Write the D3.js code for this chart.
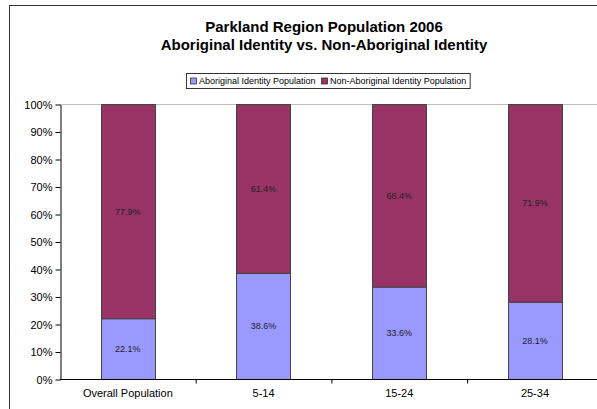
<!DOCTYPE html>
<html><head><meta charset="utf-8">
<script src="https://cdn.jsdelivr.net/npm/d3@7/dist/d3.min.js"></script>
<style>body{margin:0;background:#fff}svg{display:block;font-family:"Liberation Sans",Arial,sans-serif}</style>
</head><body><svg id="c" width="597" height="409"></svg>
<script>
const categories = ["Overall Population", "5-14", "15-24", "25-34"];
const aboriginal = [22.1, 38.6, 33.6, 28.1];
const nonAboriginal = [77.9, 61.4, 66.4, 71.9];
const seriesNames = ["Aboriginal Identity Population", "Non-Aboriginal Identity Population"];
const seriesColors = ["#9999FF", "#993366"];
const yTicks = [0, 10, 20, 30, 40, 50, 60, 70, 80, 90, 100];
const titleLines = ["Parkland Region Population 2006", "Aboriginal Identity vs. Non-Aboriginal Identity"];

const svg = d3.select("#c");
// outer border
svg.append("rect").attr("x", 9.5).attr("y", 5.5).attr("width", 600).attr("height", 420)
  .attr("fill", "none").attr("stroke", "#333").attr("stroke-width", 1);

const plotLeft = 60, plotTop = 104.5, plotBottom = 379.5;
const x = d3.scaleBand().domain(categories).range([plotLeft, plotLeft + 4 * 135.7]).paddingInner(0.6).paddingOuter(0.3);
const y = d3.scaleLinear().domain([0, 100]).range([plotBottom, plotTop]);

// title
svg.append("g").selectAll("text").data(titleLines).join("text")
  .attr("x", 324).attr("y", (d, i) => 32 + i * 18).attr("text-anchor", "middle")
  .attr("font-size", 15).attr("font-weight", "bold").attr("fill", "#000").text(d => d);

// top gridline
svg.append("line").attr("x1", plotLeft).attr("x2", 597).attr("y1", y(100)).attr("y2", y(100))
  .attr("stroke", "#c0c0c0").attr("stroke-width", 1);

const stacks = categories.map((c, i) => ({ c, a: aboriginal[i], n: nonAboriginal[i] }));
const g = svg.append("g");
g.selectAll("rect.a").data(stacks).join("rect").attr("class", "a")
  .attr("x", d => Math.round(x(d.c)) + 0.5).attr("width", Math.round(x.bandwidth()))
  .attr("y", d => y(d.a)).attr("height", d => y(0) - y(d.a))
  .attr("fill", seriesColors[0]).attr("stroke", "#444").attr("stroke-width", 1);
g.selectAll("rect.n").data(stacks).join("rect").attr("class", "n")
  .attr("x", d => Math.round(x(d.c)) + 0.5).attr("width", Math.round(x.bandwidth()))
  .attr("y", d => y(d.a + d.n)).attr("height", d => y(d.a) - y(d.a + d.n))
  .attr("fill", seriesColors[1]).attr("stroke", "#444").attr("stroke-width", 1);

// value labels
g.selectAll("text.la").data(stacks).join("text").attr("class", "la")
  .attr("x", d => x(d.c) + x.bandwidth() / 2).attr("y", d => (y(0) + y(d.a)) / 2 + 3)
  .attr("text-anchor", "middle").attr("font-size", 9).attr("fill", "#222")
  .text(d => d.a.toFixed(1) + "%");
g.selectAll("text.ln").data(stacks).join("text").attr("class", "ln")
  .attr("x", d => x(d.c) + x.bandwidth() / 2).attr("y", d => (y(d.a) + y(100)) / 2 + 3)
  .attr("text-anchor", "middle").attr("font-size", 9).attr("fill", "#222")
  .text(d => d.n.toFixed(1) + "%");

// y axis
const ya = svg.append("g").attr("transform", `translate(${plotLeft + 0.5},0)`)
  .call(d3.axisLeft(y).tickValues(yTicks).tickFormat(d => d + "%").tickSize(5).tickSizeOuter(0));
ya.select(".domain").attr("stroke", "#000");
ya.selectAll("line").attr("stroke", "#000");
ya.selectAll("text").attr("font-size", 11).attr("font-family", "Liberation Sans, Arial, sans-serif").attr("fill", "#000").attr("x", -8);

// x axis
const xa = svg.append("g").attr("transform", `translate(0,${plotBottom})`)
  .call(d3.axisBottom(x).tickSize(0).tickSizeOuter(0));
xa.select(".domain").remove();
xa.append("line").attr("x1", plotLeft).attr("x2", 597).attr("stroke", "#000");
xa.selectAll(".tick text").attr("font-size", 11).attr("font-family", "Liberation Sans, Arial, sans-serif").attr("fill", "#000").attr("dy", "1.35em");
xa.selectAll("line.bt").data([1, 2, 3]).join("line").attr("class", "bt")
  .attr("x1", d => plotLeft + 0.5 + d * 135.7).attr("x2", d => plotLeft + 0.5 + d * 135.7)
  .attr("y1", 0).attr("y2", 4).attr("stroke", "#000");

// legend
const lg = svg.append("g");
const lx = 186.5, ly = 73.5;
const items = lg.selectAll("g").data(seriesNames).join("g");
let cx = lx + 4;
items.each(function (d, i) {
  const it = d3.select(this);
  it.append("rect").attr("x", cx).attr("y", ly + 4.5).attr("width", 6).attr("height", 6)
    .attr("fill", seriesColors[i]).attr("stroke", "#333").attr("stroke-width", 0.8);
  const t = it.append("text").attr("x", cx + 8.5).attr("y", ly + 10.5).attr("font-size", 9).attr("fill", "#000").text(d);
  cx += 8.5 + t.node().getComputedTextLength() + 6;
});
lg.insert("rect", ":first-child").attr("x", lx).attr("y", ly).attr("width", cx - lx - 2).attr("height", 15)
  .attr("fill", "#fff").attr("stroke", "#333").attr("stroke-width", 1);
</script></body></html>
